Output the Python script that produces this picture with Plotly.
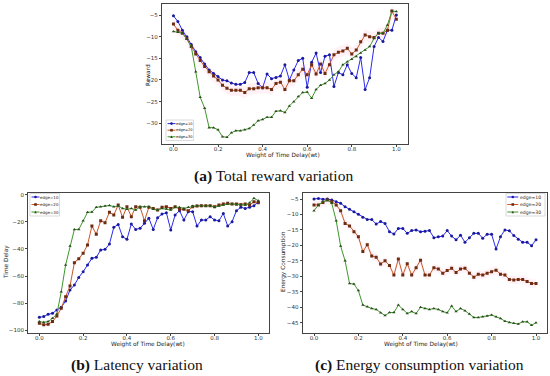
import plotly.graph_objects as go

W, H = 550, 376

wt = [0.0, 0.02, 0.04, 0.06, 0.08, 0.1, 0.12, 0.14, 0.16, 0.18,
      0.2, 0.22, 0.24, 0.26, 0.28, 0.3, 0.32, 0.34, 0.36, 0.38,
      0.4, 0.42, 0.44, 0.46, 0.48, 0.5, 0.52, 0.54, 0.56, 0.58,
      0.6, 0.62, 0.64, 0.66, 0.68, 0.7, 0.72, 0.74, 0.76, 0.78,
      0.8, 0.82, 0.84, 0.86, 0.88, 0.9, 0.92, 0.94, 0.96, 0.98, 1.0]

labels = ["edge=10", "edge=20", "edge=30"]

# (a) Total reward
reward_10 = [-5.2, -6.5, -8.5, -10.0, -11.8, -13.5, -14.8, -16.3, -17.7, -18.5,
             -19.2, -20.0, -20.2, -20.7, -21.0, -21.0, -20.6, -18.3, -18.3, -20.8,
             -21.8, -18.6, -19.7, -19.4, -19.1, -16.5, -20.0, -17.7, -15.5, -15.0,
             -21.7, -15.9, -13.8, -18.3, -14.5, -14.2, -21.5, -18.3, -18.8, -16.5,
             -18.5, -19.5, -14.8, -22.2, -19.5, -12.3, -10.2, -11.1, -8.5, -8.5, -5.0]
reward_20 = [-7.1, -8.5, -9.2, -10.4, -12.3, -14.0, -15.5, -16.9, -18.1, -19.1,
             -20.0, -21.2, -21.9, -22.4, -22.4, -22.4, -22.9, -22.0, -22.0, -21.8,
             -21.8, -21.8, -22.2, -20.8, -20.5, -22.2, -20.2, -20.2, -18.8, -17.5,
             -18.8, -16.5, -18.6, -16.3, -18.5, -16.5, -14.2, -13.6, -13.3, -12.7,
             -14.0, -13.1, -11.2, -9.6, -10.0, -10.2, -9.2, -9.2, -8.5, -4.1, -6.0]
reward_30 = [-8.8, -9.0, -9.2, -10.6, -12.3, -18.1, -24.0, -26.5, -31.0, -31.0,
             -31.5, -33.1, -33.2, -32.2, -31.7, -31.7, -31.5, -31.2, -30.4, -29.4,
             -29.1, -28.6, -28.6, -27.2, -27.1, -27.5, -26.0, -25.0, -23.8, -22.9,
             -22.8, -24.2, -22.2, -21.2, -20.8, -20.0, -18.8, -18.1, -16.5, -15.8,
             -15.2, -14.6, -13.8, -13.1, -12.3, -10.4, -9.2, -9.2, -7.3, -4.1, -4.2]

# (b) Latency
delay_10 = [-90.4, -89.9, -88.2, -87.5, -85.0, -83.0, -78.4, -70.3, -66.6, -61.0,
            -56.8, -51.8, -46.9, -46.2, -40.8, -40.3, -36.4, -24.1, -21.9, -31.0,
            -32.9, -21.6, -25.6, -24.8, -21.1, -17.4, -25.6, -17.0, -14.3, -13.3,
            -26.0, -15.0, -11.8, -18.7, -12.5, -12.5, -23.1, -18.7, -18.7, -16.2,
            -18.7, -19.2, -13.8, -23.1, -19.9, -11.8, -9.3, -10.1, -9.3, -8.1, -5.2]
delay_20 = [-94.8, -96.0, -95.6, -93.6, -89.4, -83.8, -75.2, -67.3, -50.1, -47.2,
            -43.2, -37.1, -23.1, -29.2, -19.2, -20.6, -13.0, -15.0, -7.6, -16.7,
            -8.8, -16.2, -8.8, -9.3, -19.2, -9.3, -10.1, -11.3, -9.3, -8.8,
            -10.1, -8.8, -10.8, -10.8, -11.8, -8.8, -8.4, -8.1, -8.1, -8.1,
            -8.8, -7.6, -6.9, -6.4, -6.9, -6.9, -7.4, -6.9, -7.6, -5.2, -5.9]
delay_30 = [-93.6, -94.1, -93.6, -91.2, -88.0, -71.5, -51.8, -37.8, -25.6, -25.6,
            -19.2, -13.0, -12.8, -9.3, -8.8, -8.4, -7.9, -8.8, -8.4, -10.1,
            -10.8, -10.1, -11.3, -8.8, -8.8, -8.8, -10.8, -11.3, -10.1, -10.6,
            -11.3, -9.3, -9.3, -10.1, -9.3, -8.4, -8.1, -8.1, -8.4, -8.1,
            -9.3, -8.4, -7.6, -6.9, -6.9, -7.4, -7.4, -7.6, -5.9, -2.7, -4.4]

# (c) Energy consumption
energy_10 = [-5.0, -4.8, -5.1, -5.0, -5.3, -5.9, -6.4, -7.5, -8.3, -9.1,
             -9.9, -10.9, -11.6, -11.6, -13.1, -12.3, -12.9, -15.6, -16.3, -14.5,
             -14.5, -16.1, -15.2, -15.0, -15.6, -15.4, -15.2, -17.5, -17.2, -17.0,
             -15.2, -17.0, -18.2, -16.7, -19.0, -17.5, -16.1, -16.1, -17.7, -16.4,
             -16.4, -21.2, -17.2, -15.0, -15.3, -16.8, -18.0, -19.0, -19.0, -20.1, -18.2]
energy_20 = [-6.9, -6.9, -6.1, -5.3, -5.9, -6.9, -8.8, -12.9, -13.7, -15.6,
             -17.2, -22.0, -19.8, -23.4, -23.8, -26.0, -25.0, -26.5, -29.6, -24.4,
             -29.6, -25.9, -29.6, -27.2, -24.8, -29.6, -29.6, -27.2, -27.6, -29.0,
             -28.1, -27.4, -28.8, -27.6, -27.4, -29.0, -30.3, -29.3, -29.6, -29.0,
             -28.5, -28.0, -29.3, -29.6, -31.0, -31.2, -31.0, -31.0, -31.7, -32.3, -32.3]
energy_30 = [-8.8, -6.9, -5.9, -5.3, -6.4, -12.0, -20.2, -25.0, -32.3, -32.5,
             -34.6, -39.3, -39.8, -40.4, -40.7, -41.8, -42.7, -41.7, -41.7, -39.3,
             -40.7, -42.0, -41.4, -42.0, -40.0, -40.4, -40.7, -40.4, -40.7, -41.4,
             -41.8, -39.6, -41.4, -40.4, -41.1, -42.2, -43.3, -43.3, -43.1, -42.8,
             -42.5, -43.1, -43.6, -44.5, -44.9, -45.2, -45.4, -44.7, -44.7, -45.8, -45.0]

band_20 = 1.3  # half-width of the light shaded band around edge=20

line_colors = ["#2a2af0", "#c95a2a", "#3f962c"]
marker_colors = ["#1a1a9a", "#6a2c12", "#2c4a1c"]
symbols = ["circle", "square", "triangle-up"]

fig = go.Figure()

panels = [
    ("x", "y", [reward_10, reward_20, reward_30]),
    ("x2", "y2", [delay_10, delay_20, delay_30]),
    ("x3", "y3", [energy_10, energy_20, energy_30]),
]

for xa, ya, series in panels:
    s20 = series[1]
    fig.add_trace(go.Scatter(x=wt, y=[v + band_20 for v in s20], xaxis=xa, yaxis=ya,
                             mode="lines", line=dict(width=0), hoverinfo="skip",
                             showlegend=False))
    fig.add_trace(go.Scatter(x=wt, y=[v - band_20 for v in s20], xaxis=xa, yaxis=ya,
                             mode="lines", line=dict(width=0), fill="tonexty",
                             fillcolor="rgba(255,170,200,0.16)", hoverinfo="skip",
                             showlegend=False))
    for k, vals in enumerate(series):
        fig.add_trace(go.Scatter(
            x=wt, y=vals, xaxis=xa, yaxis=ya, mode="lines+markers", name=labels[k],
            line=dict(color=line_colors[k], width=1),
            marker=dict(symbol=symbols[k], size=3.0, color=marker_colors[k],
                        line=dict(width=0)),
            showlegend=False))

def px2x(p):
    return p / W

def px2y(p):
    return 1 - p / H

tick_font = dict(family="DejaVu Sans", size=5.5, color="#333")
axis_common = dict(showline=True, mirror=True, linecolor="#444", linewidth=0.8,
                   ticks="outside", ticklen=2.5, tickwidth=0.6, tickcolor="#444",
                   showgrid=False, zeroline=False, tickfont=tick_font)

xticks = [0.0, 0.2, 0.4, 0.6, 0.8, 1.0]
x_common = dict(range=[-0.05, 1.05], tickvals=xticks, tickformat=".1f",
                ticklabelstandoff=-3, **axis_common)

layout_axes = {
    "xaxis": dict(domain=[px2x(162.3), px2x(407.5)], anchor="y", **x_common),
    "yaxis": dict(domain=[px2y(144), px2y(4)], range=[-34.78, -2.46], anchor="x",
                  tickvals=[-5, -10, -15, -20, -25, -30], **axis_common),
    "xaxis2": dict(domain=[px2x(28.4), px2x(269.3)], anchor="y2", **x_common),
    "yaxis2": dict(domain=[px2y(333), px2y(192.7)], range=[-102.0, 1.47], anchor="x2",
                   tickvals=[0, -20, -40, -60, -80, -100], **axis_common),
    "xaxis3": dict(domain=[px2x(302.9), px2x(547.1)], anchor="y3", **x_common),
    "yaxis3": dict(domain=[px2y(332.7), px2y(192.7)], range=[-48.23, -2.96], anchor="x3",
                   tickvals=[-5, -10, -15, -20, -25, -30, -35, -40, -45], **axis_common),
}

fig.update_layout(width=W, height=H, margin=dict(l=0, r=0, t=0, b=0),
                  paper_bgcolor="white", plot_bgcolor="white", showlegend=False,
                  **layout_axes)

annotations = []
label_font = dict(family="DejaVu Sans", size=5.8, color="#222")

def ann(text, xc, yc, font, angle=0, xanchor="center"):
    annotations.append(dict(text=text, x=px2x(xc), y=px2y(yc), xref="paper", yref="paper",
                            xanchor=xanchor, yanchor="middle", showarrow=False,
                            textangle=angle, font=font, borderpad=0, borderwidth=0))

# axis titles
for x_c, y_c in [(283, 155.5), (148, 344), (420.5, 344)]:
    ann("Weight of Time Delay(wt)", x_c, y_c, label_font)
for txt, x_c, y_c in [("Reward", 148, 75), ("Time Delay", 6, 262),
                      ("Energy Consumption", 283, 262)]:
    ann(txt, x_c, y_c, label_font, angle=-90)

# captions
cap_font = dict(family="Liberation Serif", size=15.5, color="#111")
for txt, x_c, y_c in [("<b>(a)</b> Total reward variation", 273.5, 176),
                      ("<b>(b)</b> Latency variation", 136.7, 365),
                      ("<b>(c)</b> Energy consumption variation", 419.5, 365)]:
    ann(txt, x_c, y_c, cap_font)

shapes = []

def add_legend(bx0, by0, bx1, by1, rows, hx0, hx1, tx, fsize):
    shapes.append(dict(type="rect", xref="paper", yref="paper",
                       x0=px2x(bx0), x1=px2x(bx1), y0=px2y(by1), y1=px2y(by0),
                       fillcolor="rgba(255,255,255,0.85)",
                       line=dict(color="#cccccc", width=0.7)))
    for k, ry in enumerate(rows):
        shapes.append(dict(type="line", xref="paper", yref="paper",
                           x0=px2x(hx0), x1=px2x(hx1), y0=px2y(ry), y1=px2y(ry),
                           line=dict(color=line_colors[k], width=1)))
        mx = (hx0 + hx1) / 2
        r = 1.3
        if k == 0:
            shapes.append(dict(type="circle", xref="paper", yref="paper",
                               x0=px2x(mx - r), x1=px2x(mx + r), y0=px2y(ry + r), y1=px2y(ry - r),
                               fillcolor=marker_colors[k], line=dict(width=0)))
        elif k == 1:
            shapes.append(dict(type="rect", xref="paper", yref="paper",
                               x0=px2x(mx - r), x1=px2x(mx + r), y0=px2y(ry + r), y1=px2y(ry - r),
                               fillcolor=marker_colors[k], line=dict(width=0)))
        else:
            path = "M {} {} L {} {} L {} {} Z".format(
                px2x(mx - r), px2y(ry + r), px2x(mx + r), px2y(ry + r), px2x(mx), px2y(ry - r))
            shapes.append(dict(type="path", xref="paper", yref="paper", path=path,
                               fillcolor=marker_colors[k], line=dict(width=0)))
        ann(labels[k], tx, ry, dict(family="DejaVu Sans", size=fsize, color="#222"),
            xanchor="left")

add_legend(166, 120, 193.5, 140.5, [123.6, 130.2, 136.8], 167.5, 175.5, 176.2, 3.6)
add_legend(30, 193.5, 59.5, 216, [197, 204.5, 212], 31.5, 39.5, 40, 4.0)
add_legend(506, 193.5, 545, 216, [197, 204.5, 212], 507.3, 518.3, 520.3, 4.6)

fig.update_layout(annotations=annotations, shapes=shapes)

fig.write_html(
    "out.html",
    config={"displayModeBar": False},
    post_script="document.body.style.margin='0';document.body.style.padding='0';"
                "document.body.style.overflow='hidden';",
)
